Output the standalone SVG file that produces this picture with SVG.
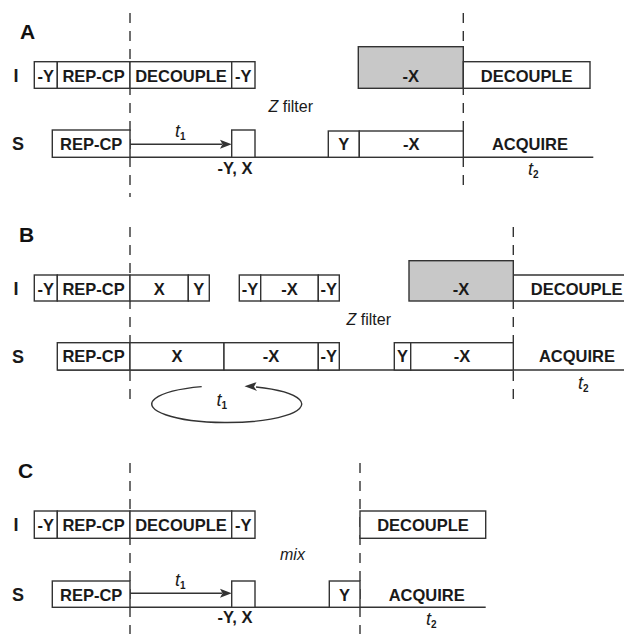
<svg xmlns="http://www.w3.org/2000/svg" width="624" height="634" viewBox="0 0 624 634">
  <style>
    .box { fill: #ffffff; stroke: #333333; stroke-width: 1.4; }
    .shaded { fill: #c8c8c8; stroke: #333333; stroke-width: 1.4; }
    .line { fill: none; stroke: #333333; stroke-width: 1.4; }
    .dash { fill: none; stroke: #333333; stroke-width: 1.4; stroke-dasharray: 10 8; }
    .lbl { font-family: "Liberation Sans", Arial, sans-serif; font-weight: bold; font-size: 16.5px; fill: #1a1a1a; text-anchor: middle; }
    .row { font-family: "Liberation Sans", Arial, sans-serif; font-weight: bold; font-size: 18px; fill: #1a1a1a; text-anchor: middle; }
    .panel { font-family: "Liberation Sans", Arial, sans-serif; font-weight: bold; font-size: 21px; fill: #111111; }
    .note { font-family: "Liberation Sans", Arial, sans-serif; font-size: 16px; fill: #1a1a1a; }
    .time { font-family: "Liberation Sans", Arial, sans-serif; font-style: italic; font-size: 18px; fill: #1a1a1a; }
    .sub { font-style: normal; font-weight: bold; font-size: 10px; }
    .head { fill: #333333; }
  </style>

  <!-- ===== Panel A ===== -->
  <g id="panelA">
    <text class="panel" x="20" y="39">A</text>
    <text class="row" x="16" y="81.5">I</text>
    <text class="row" x="18" y="150">S</text>

    <g id="A-dashes">
      <line class="dash" x1="130" y1="13" x2="130" y2="197"/>
      <line class="dash" x1="463.3" y1="13" x2="463.3" y2="187"/>
    </g>

    <g id="A-I">
      <rect class="box" x="34.3" y="61.7" width="23" height="26.6"/>
      <rect class="box" x="57.3" y="61.7" width="72.7" height="26.6"/>
      <rect class="box" x="130" y="61.7" width="101.7" height="26.6"/>
      <rect class="box" x="231.7" y="61.7" width="23.3" height="26.6"/>
      <text class="lbl" x="45.8" y="81.5">-Y</text>
      <text class="lbl" x="93.6" y="81.5">REP-CP</text>
      <text class="lbl" x="181" y="81.5">DECOUPLE</text>
      <text class="lbl" x="243.3" y="81.5">-Y</text>
      <rect class="shaded" x="358.3" y="46.7" width="105" height="41.6"/>
      <text class="lbl" x="410.8" y="81.5">-X</text>
      <rect class="box" x="463.3" y="61.7" width="126.7" height="26.6"/>
      <text class="lbl" x="526.7" y="81.5">DECOUPLE</text>
    </g>

    <text class="note" x="268.5" y="112"><tspan font-style="italic">Z</tspan> filter</text>

    <g id="A-S">
      <line class="line" x1="52.3" y1="157.3" x2="593.3" y2="157.3"/>
      <rect class="box" x="52.3" y="130" width="77.7" height="27.3"/>
      <text class="lbl" x="91.2" y="149.5">REP-CP</text>
      <line class="line" x1="130" y1="144.3" x2="222" y2="144.3"/>
      <polygon class="head" points="231.7,144.3 220,139.8 222.5,144.3 220,148.8"/>
      <text class="time" x="175" y="137">t<tspan class="sub" dy="3">1</tspan></text>
      <rect class="box" x="231.7" y="130" width="23.3" height="27.3"/>
      <text class="lbl" x="235" y="173.5">-Y, X</text>
      <rect class="box" x="328.3" y="131" width="31" height="26.3"/>
      <rect class="box" x="359.3" y="131" width="104" height="26.3"/>
      <text class="lbl" x="343.8" y="149.5">Y</text>
      <text class="lbl" x="411.3" y="149.5">-X</text>
      <text class="lbl" x="530" y="149.5">ACQUIRE</text>
      <text class="time" x="528" y="175">t<tspan class="sub" dy="3">2</tspan></text>
    </g>
  </g>

  <!-- ===== Panel B ===== -->
  <g id="panelB">
    <text class="panel" x="19" y="241.5">B</text>
    <text class="row" x="16" y="294.5">I</text>
    <text class="row" x="18" y="362.5">S</text>

    <g id="B-dashes">
      <line class="dash" x1="130" y1="227" x2="130" y2="400"/>
      <line class="dash" x1="513.3" y1="227" x2="513.3" y2="400"/>
    </g>

    <g id="B-I">
      <rect class="box" x="34.3" y="275" width="23" height="26"/>
      <rect class="box" x="57.3" y="275" width="72.7" height="26"/>
      <rect class="box" x="130" y="275" width="58.3" height="26"/>
      <rect class="box" x="188.3" y="275" width="21" height="26"/>
      <text class="lbl" x="45.8" y="294.5">-Y</text>
      <text class="lbl" x="93.6" y="294.5">REP-CP</text>
      <text class="lbl" x="159.2" y="294.5">X</text>
      <text class="lbl" x="198.8" y="294.5">Y</text>
      <rect class="box" x="239.3" y="275" width="21.4" height="26"/>
      <rect class="box" x="260.7" y="275" width="57.6" height="26"/>
      <rect class="box" x="318.3" y="275" width="21" height="26"/>
      <text class="lbl" x="250" y="294.5">-Y</text>
      <text class="lbl" x="289.5" y="294.5">-X</text>
      <text class="lbl" x="328.8" y="294.5">-Y</text>
      <rect class="shaded" x="409" y="260.7" width="104.3" height="40.3"/>
      <text class="lbl" x="461" y="294.5">-X</text>
      <path class="line" d="M513.3 275 H626 M513.3 301 H626"/>
      <text class="lbl" x="576.7" y="294.5">DECOUPLE</text>
    </g>

    <text class="note" x="346.5" y="325"><tspan font-style="italic">Z</tspan> filter</text>

    <g id="B-S">
      <line class="line" x1="57.3" y1="370" x2="626" y2="370"/>
      <rect class="box" x="57.3" y="342.7" width="72.7" height="27.3"/>
      <rect class="box" x="130" y="342.7" width="94" height="27.3"/>
      <rect class="box" x="224" y="342.7" width="94.3" height="27.3"/>
      <rect class="box" x="318.3" y="342.7" width="21" height="27.3"/>
      <text class="lbl" x="93.6" y="362">REP-CP</text>
      <text class="lbl" x="177" y="362">X</text>
      <text class="lbl" x="271" y="362">-X</text>
      <text class="lbl" x="328.8" y="362">-Y</text>
      <rect class="box" x="394.3" y="342.7" width="16.4" height="27.3"/>
      <rect class="box" x="410.7" y="342.7" width="102.6" height="27.3"/>
      <text class="lbl" x="402.5" y="362">Y</text>
      <text class="lbl" x="462" y="362">-X</text>
      <text class="lbl" x="577" y="362">ACQUIRE</text>
      <text class="time" x="578" y="389">t<tspan class="sub" dy="3">2</tspan></text>
    </g>

    <g id="B-loop">
      <path class="line" d="M201.7 386.6 A75 18.5 0 1 0 256 387"/>
      <polygon class="head" points="244.5,386.3 256.5,382.2 254,386.8 257,391"/>
      <text class="time" x="216.5" y="406">t<tspan class="sub" dy="3">1</tspan></text>
    </g>
  </g>

  <!-- ===== Panel C ===== -->
  <g id="panelC">
    <text class="panel" x="18" y="477.5">C</text>
    <text class="row" x="16" y="531">I</text>
    <text class="row" x="18" y="600.5">S</text>

    <g id="C-dashes">
      <line class="dash" x1="130" y1="463" x2="130" y2="634"/>
      <line class="dash" x1="360" y1="463" x2="360" y2="634"/>
    </g>

    <g id="C-I">
      <rect class="box" x="34.3" y="511" width="23" height="27.3"/>
      <rect class="box" x="57.3" y="511" width="72.7" height="27.3"/>
      <rect class="box" x="130" y="511" width="101.7" height="27.3"/>
      <rect class="box" x="231.7" y="511" width="23.3" height="27.3"/>
      <text class="lbl" x="45.8" y="531">-Y</text>
      <text class="lbl" x="93.6" y="531">REP-CP</text>
      <text class="lbl" x="181" y="531">DECOUPLE</text>
      <text class="lbl" x="243.3" y="531">-Y</text>
      <rect class="box" x="360" y="511" width="125.7" height="27.3"/>
      <text class="lbl" x="423" y="531">DECOUPLE</text>
    </g>

    <text class="note" x="280" y="560" font-style="italic">mix</text>

    <g id="C-S">
      <line class="line" x1="52.3" y1="607.3" x2="485.7" y2="607.3"/>
      <rect class="box" x="52.3" y="581" width="77.7" height="26.3"/>
      <text class="lbl" x="91.2" y="600.5">REP-CP</text>
      <line class="line" x1="130" y1="593.3" x2="222" y2="593.3"/>
      <polygon class="head" points="231.7,593.3 220,588.8 222.5,593.3 220,597.8"/>
      <text class="time" x="175" y="585.5">t<tspan class="sub" dy="3">1</tspan></text>
      <rect class="box" x="231.7" y="581" width="23.3" height="26.3"/>
      <text class="lbl" x="235" y="623">-Y, X</text>
      <rect class="box" x="329.3" y="581" width="30.7" height="26.3"/>
      <text class="lbl" x="344.6" y="600.5">Y</text>
      <text class="lbl" x="426.7" y="600.5">ACQUIRE</text>
      <text class="time" x="426" y="625">t<tspan class="sub" dy="3">2</tspan></text>
    </g>
  </g>
</svg>
